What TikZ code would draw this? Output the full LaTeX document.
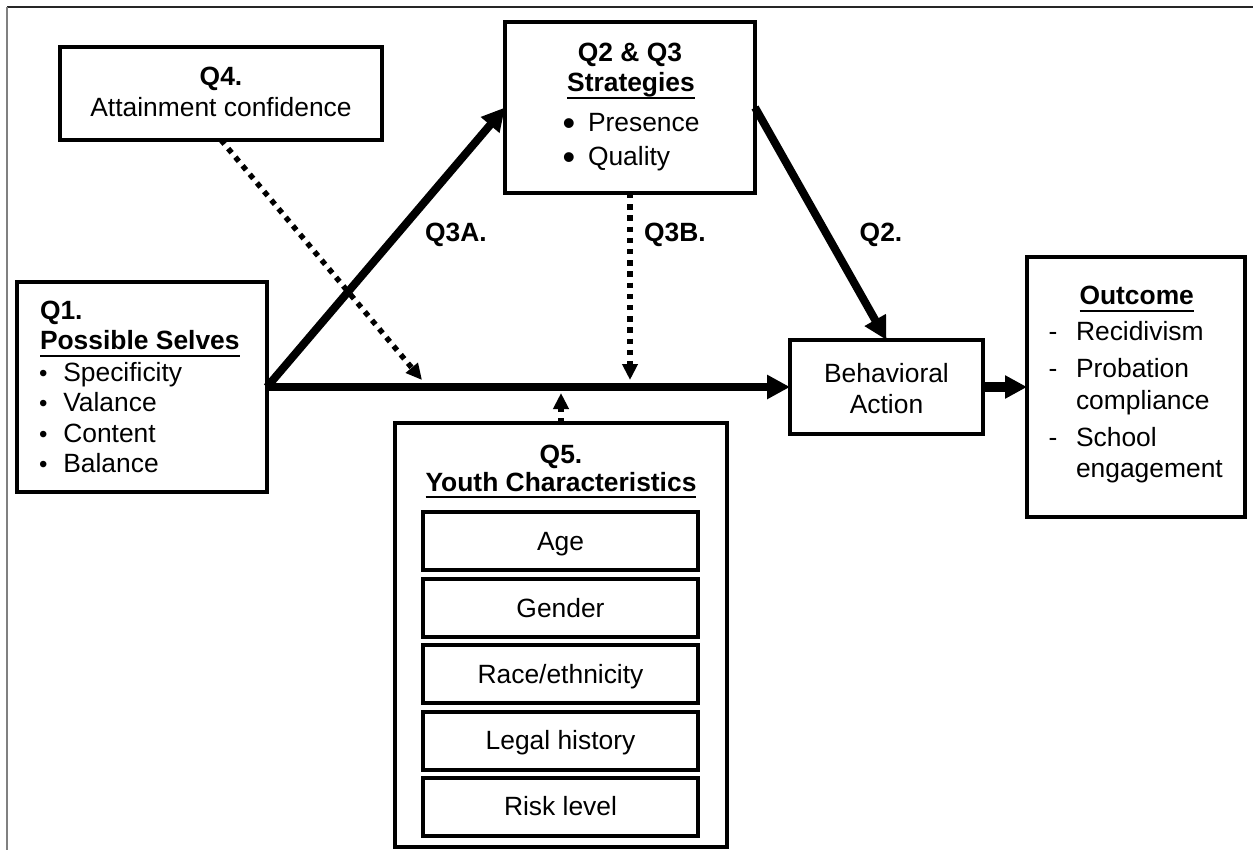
\documentclass[tikz,border=0pt]{standalone}
\usepackage{fontspec}
\setmainfont{Liberation Sans}
\newfontfamily\bulletfont{Liberation Sans}
\usetikzlibrary{arrows.meta,fit}

% underlined heading with a fixed rule position
\newsavebox{\ulsave}
\newcommand{\ulined}[1]{\sbox{\ulsave}{#1}\rlap{\rule[-3.6pt]{\wd\ulsave}{1.1pt}}\usebox{\ulsave}}

\begin{document}
\begin{tikzpicture}[x=0.5pt,y=-0.5pt,
  font=\fontsize{13.2}{15}\selectfont,
  every node/.style={inner sep=0pt, outer sep=0pt},
  boxnode/.style={draw, line width=2.25pt, rectangle},
  itemnode/.style={draw, line width=2pt, rectangle, minimum width=137.5pt,
    minimum height=29pt, text height=9.4pt, text depth=0pt},
  txt/.style={anchor=base},
  txtl/.style={anchor=base west},
  bold/.style={font=\fontsize{13.2}{15}\selectfont\bfseries},
  smallbullet/.style={anchor=base, font=\bulletfont\fontsize{12}{13}\selectfont},
  bigbullet/.style={anchor=base, font=\bulletfont\fontsize{18}{18}\selectfont},
  bigarrow/.style={line width=4pt, -{Triangle[length=11.5pt,width=11.5pt]}},
  dotarrow/.style={line width=2.7pt, dash pattern=on 2.7pt off 2.9pt,
    -{Triangle[length=8pt,width=7.5pt]}}
]
\useasboundingbox (0,0) rectangle (1253,850);

% page frame
\draw[line width=0.8pt, black!85] (7,7) -- (1253,7);
\draw[line width=1pt, gray] (7,7) -- (7,850);

% ---- boxes ----
\node[boxnode, fit={(60,47) (382,140)}] (q4) {};
\node[boxnode, fit={(505,22) (755,193)}] (strat) {};
\node[boxnode, fit={(17,282) (267,492)}] (q1) {};
\node[boxnode, fit={(790,340) (983,434)}] (behav) {};
\node[boxnode, fit={(1027,257) (1245,517)}] (outc) {};
\node[boxnode, fit={(395,423) (727,847)}] (youth) {};

% ---- Q4 ----
\node[txt, bold] (q4a) at (221,86) {Q4.};
\node[txt] (q4b) at (221,117) {Attainment confidence};

% ---- strategies ----
\node[txt, bold] (sa) at (630,62) {Q2 \& Q3};
\node[txt, bold] (sb) at (631,92) {\ulined{Strategies}};
\node[bigbullet] (sc1) at (569,136) {•};
\node[txtl] (sc2) at (588,132) {Presence};
\node[bigbullet] (sd1) at (569,170) {•};
\node[txtl] (sd2) at (588,166) {Quality};

% ---- Q1 ----
\node[txtl, bold] (p1) at (40,320) {Q1.};
\node[txtl, bold] (p2) at (40,350) {\ulined{Possible Selves}};
\node[smallbullet] (p3b) at (43.3,381) {•};
\node[txtl] (p3) at (63.3,381) {Specificity};
\node[smallbullet] (p4b) at (43.3,411.5) {•};
\node[txtl] (p4) at (63.3,411.5) {Valance};
\node[smallbullet] (p5b) at (43.3,442) {•};
\node[txtl] (p5) at (63.3,442) {Content};
\node[smallbullet] (p6b) at (43.3,472.5) {•};
\node[txtl] (p6) at (63.3,472.5) {Balance};

% ---- behavioral action ----
\node[txt] (ba1) at (886.5,382) {Behavioral};
\node[txt] (ba2) at (886.5,413) {Action};

% ---- outcome ----
\node[txt, bold] (o0) at (1136.7,305) {\ulined{Outcome}};
\node[txt] (o1d) at (1053,341) {-};
\node[txtl] (o1) at (1076,341) {Recidivism};
\node[txt] (o2d) at (1053,378) {-};
\node[txtl] (o2) at (1076,378) {Probation};
\node[txtl] (o2b) at (1076,409) {compliance};
\node[txt] (o3d) at (1053,446) {-};
\node[txtl] (o3) at (1076,446) {School};
\node[txtl] (o3b) at (1076,477) {engagement};

% ---- youth characteristics ----
\node[txt, bold] (y1) at (561,463) {Q5.};
\node[txt, bold] (y2) at (561,491) {\ulined{Youth Characteristics}};
\node[itemnode] (age) at (560.5,541) {Age};
\node[itemnode] (gender) at (560.5,608) {Gender};
\node[itemnode] (race) at (560.5,674) {Race/ethnicity};
\node[itemnode] (legal) at (560.5,740.5) {Legal history};
\node[itemnode] (risk) at (560.5,806.5) {Risk level};

% ---- path labels ----
\node[txt, bold] (l3a) at (456,242) {Q3A.};
\node[txt, bold] (l3b) at (675,242) {Q3B.};
\node[txt, bold] (l2) at (881,242) {Q2.};

% ---- solid paths ----
\draw[bigarrow] (q1.east) -- (behav.west);
\draw[bigarrow] (q1.east) -- (strat.west);
\draw[bigarrow] (strat.east) -- (behav.north);
\draw[line width=5pt, -{Triangle[length=11pt,width=11pt]}] (behav.east) -- (outc.west);

% ---- moderating (dotted) paths ----
\coordinate (t4) at (422,380);
\coordinate (t3b) at (630,380);
\coordinate (t5) at (561,393);
\draw[dotarrow] (q4.south) -- (t4);
\draw[dotarrow] (strat.south) -- (t3b);
\draw[dotarrow] (youth.north) -- (t5);
\end{tikzpicture}
\end{document}
